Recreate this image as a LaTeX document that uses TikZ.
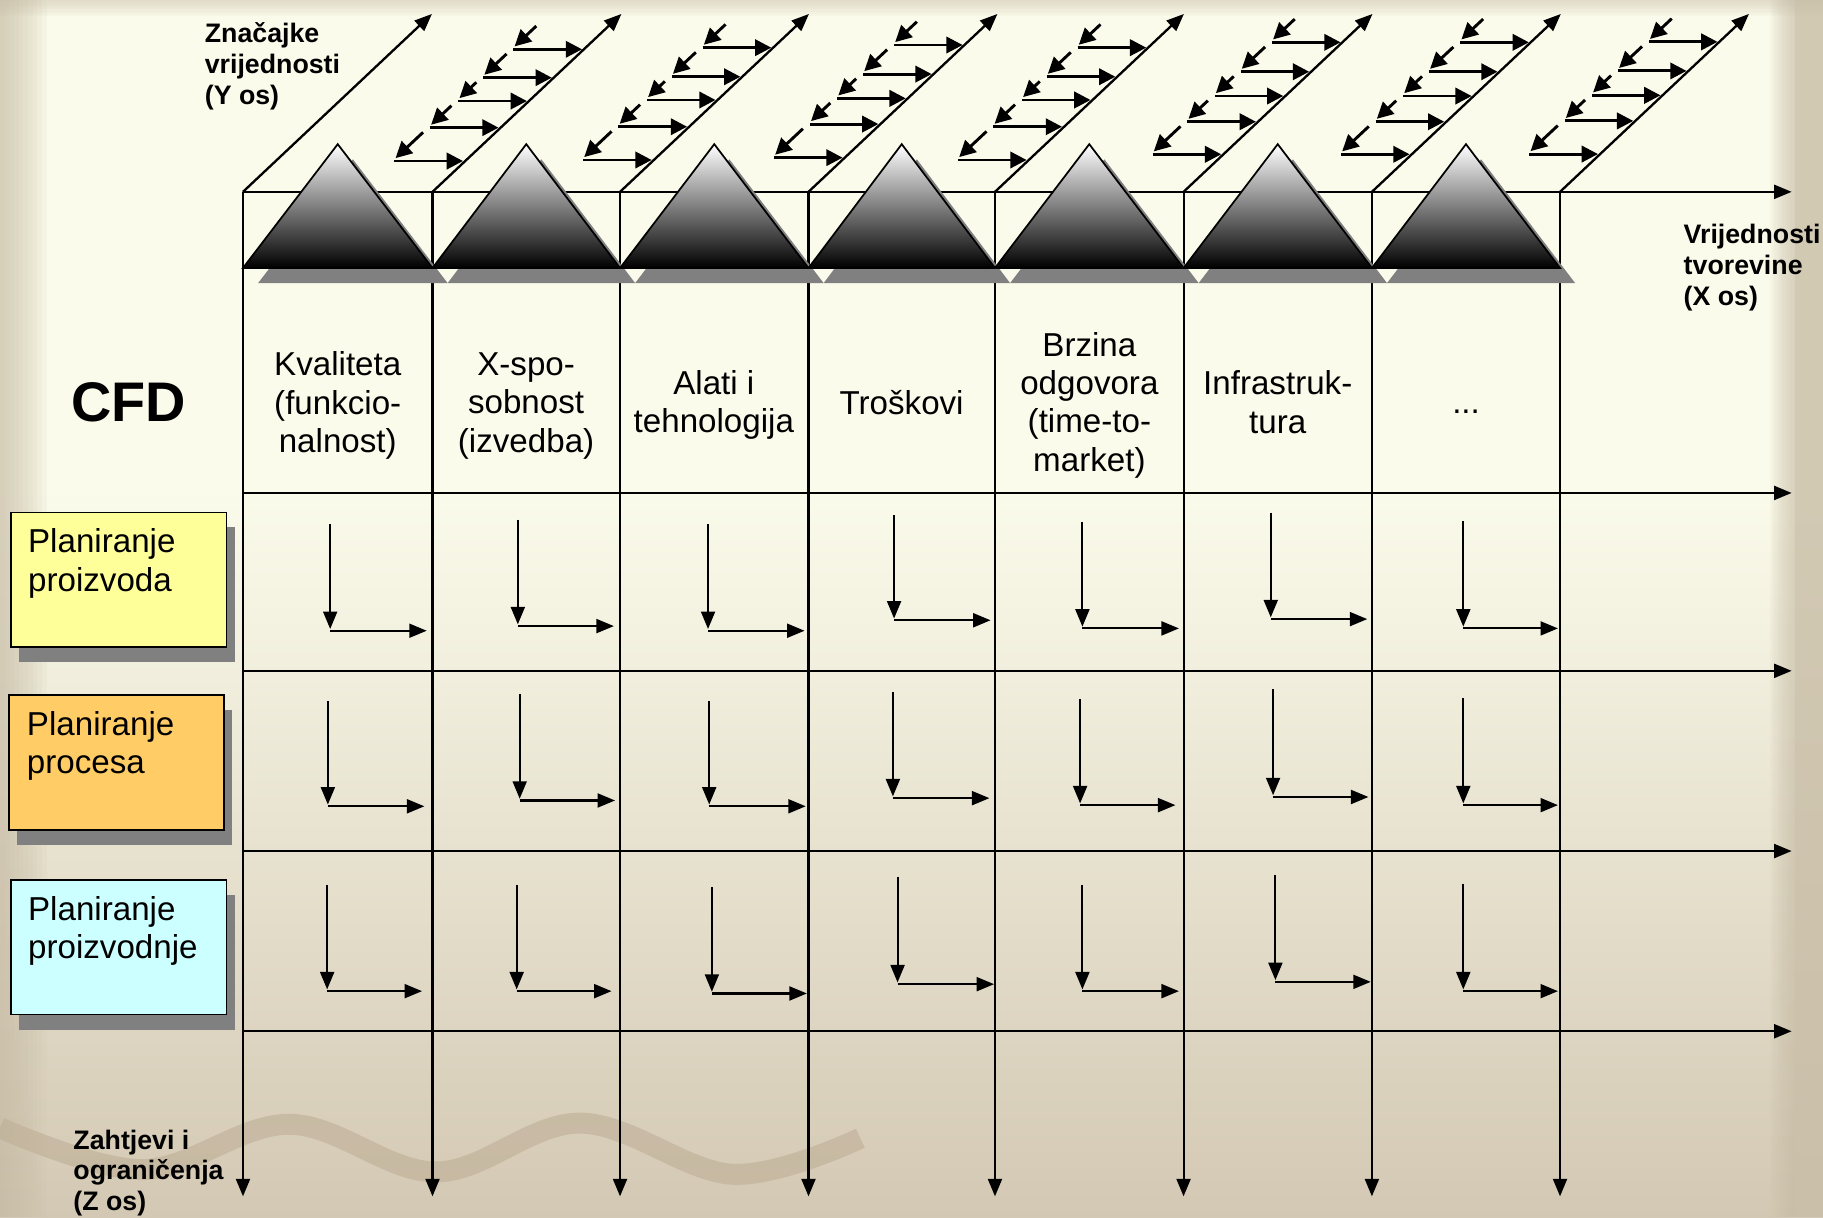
\documentclass[tikz,border=0pt]{standalone}
\usepackage{fontspec}
\setmainfont{Liberation Sans}
\usetikzlibrary{arrows.meta,shadows}

\definecolor{bgtop}{RGB}{251,251,235}
\definecolor{bgbot}{RGB}{211,200,179}
\definecolor{edgetan}{RGB}{200,189,166}
\definecolor{wavecol}{RGB}{190,174,150}
\definecolor{boxyellow}{RGB}{255,255,153}
\definecolor{boxorange}{RGB}{255,204,102}
\definecolor{boxcyan}{RGB}{204,255,255}
\definecolor{shadowgray}{RGB}{128,128,128}
\definecolor{midgray}{RGB}{160,160,160}

\newcommand\hdrfont{\fontsize{28.5}{33}\selectfont}
\newcommand\axfont{\fontsize{23}{26.5}\selectfont\bfseries}
\newcommand\cfdfont{\fontsize{48}{56}\selectfont\bfseries}

\begin{document}
\begin{tikzpicture}[x=1pt,y=-1pt,
  tipA/.style={-{Triangle[length=15pt,width=12pt]}},
  zax/.style={line width=1.8pt,tipA},
  xax/.style={line width=1.8pt,tipA},
  yax/.style={line width=2pt,tipA},
  rung/.style={line width=2.5pt,-{Triangle[length=14pt,width=14pt]}},
  larrow/.style={line width=1.8pt,tipA},
  hdr/.style={font=\hdrfont,align=center,inner sep=0pt},
  boxtxt/.style={font=\hdrfont,align=left,inner sep=0pt},
  axlbl/.style={font=\axfont,align=left,inner sep=0pt},
  box/.style={draw=black,line width=1.4pt,minimum width=185pt,minimum height=116pt,inner sep=0pt,
    drop shadow={shadow xshift=7pt,shadow yshift=-13pt,fill=shadowgray,opacity=1}}]

\useasboundingbox (0,0) rectangle (1568,1047);

% background: ivory fading to tan towards the bottom, darker rims
\fill[bgtop] (0,0) rectangle (1568,1047);
\shade[top color=bgtop,bottom color=bgbot] (0,420) rectangle (1568,1047);
\foreach \w in {4,8,...,40} \fill[edgetan,opacity=0.1] (0,0) rectangle (\w,1047);
\foreach \w in {2,4,...,22} \fill[edgetan,opacity=0.08] (1544-\w,0) rectangle (1544,1047);
\fill[edgetan,opacity=0.8] (1544,0) rectangle (1568,1047);
\foreach \h in {2,4,...,14} \fill[edgetan,opacity=0.08] (0,0) rectangle (1568,\h);

% decorative wave
\draw[wavecol,line width=18pt,opacity=0.6] plot[smooth,tension=0.6] coordinates
  {(0,970) (123,1006) (249,967) (375,1008) (499,966) (630,1010) (740,979)};

% column anchors
\foreach \x [count=\i from 0] in {209,372,533.3,695.4,855.8,1018,1180,1341.8} {
  \coordinate (ct\i) at (\x,165);
  \coordinate (cb\i) at (\x,1029);
  \coordinate (cy\i) at (\x+162.5,12);
}

% Z axes (columns)
\foreach \i in {0,...,7} \draw[zax] (ct\i) -- (cb\i);

% X axes (rows)
\foreach \y [count=\j] in {165,424,577,732,887} {
  \coordinate (rl\j) at (209,\y);
  \coordinate (rr\j) at (1541,\y);
  \draw[xax] (rl\j) -- (rr\j);
}

% Y axes (diagonals)
\foreach \i in {0,...,7} \draw[yax] (ct\i) -- (cy\i);

% value ladders along the Y axes
\foreach \xk/\rungs [count=\k] in {
  372/{42.4,66.8,86.9,109.8,138.5},
  533.3/{41,66,86,109,137.6},
  695.4/{38.7,63.7,84.6,106.7,135.6},
  855.8/{41,66,86,109,137.6},
  1018/{36.4,61.7,82.6,104.7,132.7},
  1180/{36.4,61.7,82.6,104.7,132.7},
  1341.8/{36,61,82,104,132.5}} {
  \foreach \yy [count=\j, remember=\yy as \yp (initially -100)] in \rungs {
    \pgfmathsetmacro\xd{\xk+(165-\yy)*1.0654}
    \pgfmathsetmacro\ys{ifthenelse(\yp<0,\yy-20,\yp+4)}
    \pgfmathsetmacro\xs{\xd-60+(\yy-2.5-\ys)*1.0654}
    \coordinate (rs-\k-\j) at (\xd-61,\yy);
    \coordinate (re-\k-\j) at (\xd-2,\yy);
    \coordinate (ds-\k-\j) at (\xs,\ys);
    \coordinate (de-\k-\j) at (\xd-60,\yy-2.5);
    \draw[rung] (ds-\k-\j) -- (de-\k-\j);
    \draw[rung] (rs-\k-\j) -- (re-\k-\j);
  }
}

% mountains with their shadows
\foreach \xl/\xr in {209/372,372/533.3,533.3/695.4,695.4/855.8,855.8/1018,1018/1180,1180/1341.8}
  \fill[shadowgray,shift={(13,13)}] (\xl,230.5) -- ({(\xl+\xr)/2},124) -- (\xr,230.5) -- cycle;
\foreach \xl/\xr in {209/372,372/533.3,533.3/695.4,695.4/855.8,855.8/1018,1018/1180,1180/1341.8}
  \shade[top color=white,middle color=midgray,bottom color=black,draw=black,line width=1.5pt]
    (\xl,230.5) -- ({(\xl+\xr)/2},124) -- (\xr,230.5) -- cycle;

% L-shaped flows inside the cells
\foreach \x/\ya/\yb/\xe [count=\n] in {
  284/451/541/367, 445.4/447/537/528, 609/451/541/692, 769/443/532/852,
  931/449/539/1014, 1093/441/531/1176, 1258.6/448/539/1340,
  282/603/692/365, 447/597/687/529, 610/603/692/693, 768/595/685/851,
  929/601/691/1011, 1095/593/684/1177, 1258.6/600/691/1340,
  281.4/761/851/363, 444.4/761/851/526, 612.3/763/853/694, 772/754/845/855,
  931/761/851/1014, 1097/753/843/1179, 1258.6/760/851/1340} {
  \coordinate (la\n) at (\x,\ya);
  \coordinate (lb\n) at (\x,\yb);
  \coordinate (lc\n) at (\x,\yb+1.5);
  \coordinate (ld\n) at (\xe,\yb+1.5);
  \draw[larrow] (la\n) -- (lb\n);
  \draw[larrow] (lc\n) -- (ld\n);
}

% column headings
\node[hdr] (h1) at (290.5,349) {Kvaliteta\\(funkcio-\\nalnost)};
\node[hdr] (h2) at (452.5,349) {X-spo-\\sobnost\\(izvedba)};
\node[hdr] (h3) at (614,348.5) {Alati i\\tehnologija};
\node[hdr] (h4) at (775.5,346) {Troškovi};
\node[hdr] (h5) at (937,348.5) {Brzina\\odgovora\\(time-to-\\market)};
\node[hdr] (h6) at (1099,346) {Infrastruk-\\tura};
\node[hdr,anchor=base] (h7) at (1261,356) {...};

\node[anchor=west,font=\cfdfont,inner sep=0pt] (cfd) at (61,346) {CFD};

% planning levels
\node[box,fill=boxyellow,anchor=north west] (b1) at (9,440) {};
\node[boxtxt,anchor=north west] (b1t) at ([shift={(15,14.5)}]b1.north west) {Planiranje\\proizvoda};
\node[box,fill=boxorange,anchor=north west] (b2) at (7,597) {};
\node[boxtxt,anchor=north west] (b2t) at ([shift={(16,14.5)}]b2.north west) {Planiranje\\procesa};
\node[box,fill=boxcyan,anchor=north west] (b3) at (9,756) {};
\node[boxtxt,anchor=north west] (b3t) at ([shift={(15,14.5)}]b3.north west) {Planiranje\\proizvodnje};

% axis captions
\node[axlbl,anchor=north west] (ylbl) at (176,19.5) {Značajke\\vrijednosti\\(Y os)};
\node[axlbl,anchor=north west] (xlbl) at (1448,192.5) {Vrijednosti\\tvorevine\\(X os)};
\node[axlbl,anchor=north west] (zlbl) at (63,971.5) {Zahtjevi i\\ograničenja\\(Z os)};

\end{tikzpicture}
\end{document}
